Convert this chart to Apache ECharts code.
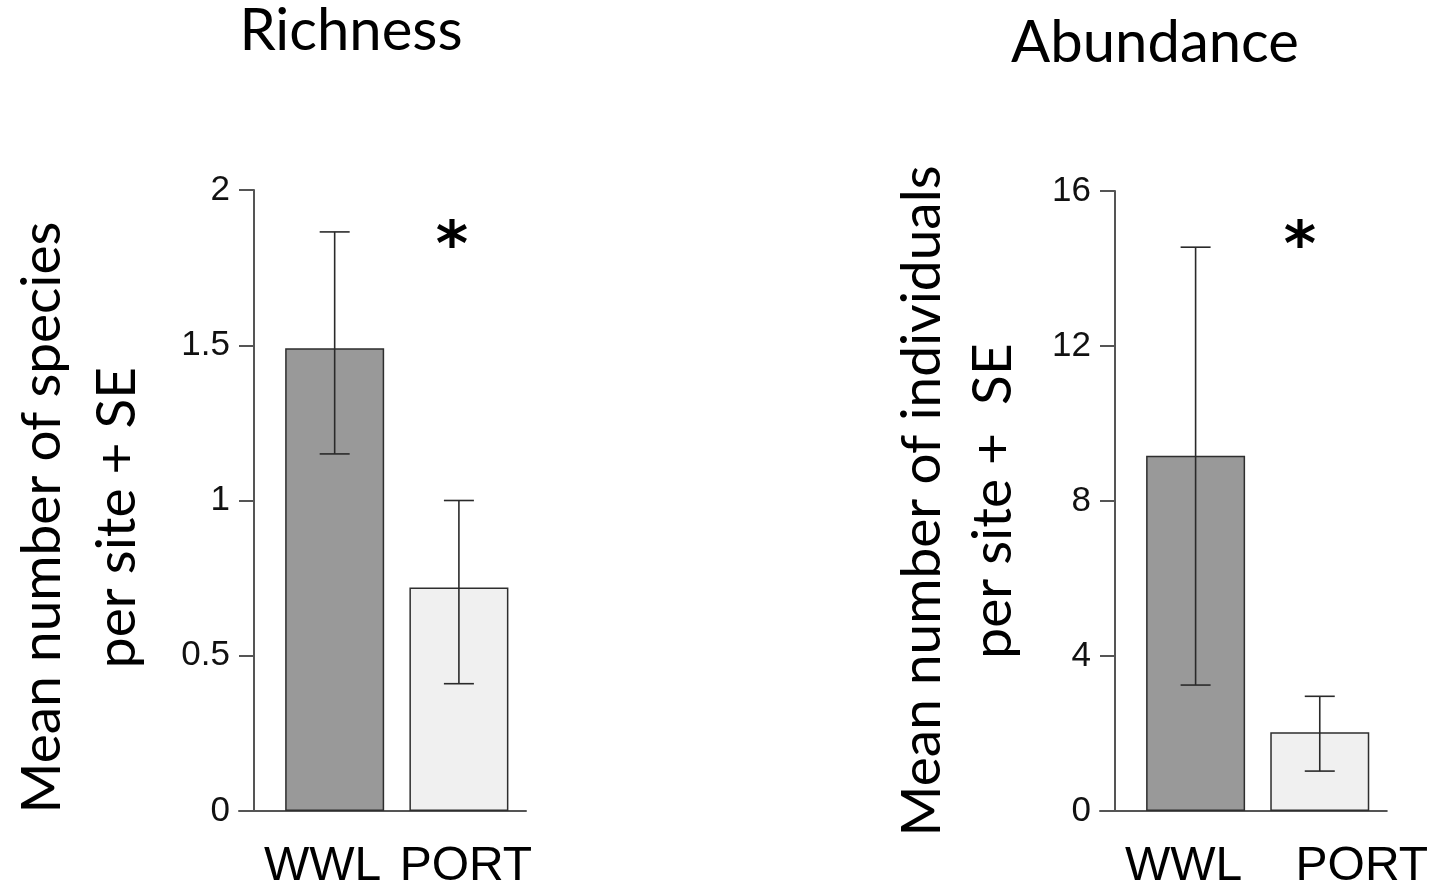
<!DOCTYPE html>
<html><head><meta charset="utf-8">
<script src="https://cdn.jsdelivr.net/npm/echarts@6/dist/echarts.min.js"></script>
<style>html,body{margin:0;padding:0;background:#fff}#c{width:1431px;height:891px}</style>
</head><body><div id="c"></div>
<script>
// ---- data ----
const categories = ['WWL', 'PORT'];
const richnessMean = [1.49, 0.72];
const richnessLow = [1.15, 0.41];
const richnessHigh = [1.865, 1.0];
const abundanceMean = [9.17, 2.03];
const abundanceLow = [3.25, 1.03];
const abundanceHigh = [14.55, 2.96];
const richnessTicks = [0, 0.5, 1, 1.5, 2];
const abundanceTicks = [0, 4, 8, 12, 16];
const titles = ['Richness', 'Abundance'];
const yNames = ['Mean number of species\nper site + SE', 'Mean number of individuals\nper site +  SE'];
const signif = ['*', '*'];

// ---- styles ----
const fills = ['#999999', '#f0f0f0'];
const axisColor = '#555555';
const tickFont = 'Liberation Sans, Arial, sans-serif';
const nameFont = 'Lato, "Open Sans", sans-serif';

const chart = echarts.init(document.getElementById('c'), null, {renderer: 'canvas'});

const panels = [
  {mean: richnessMean, low: richnessLow, high: richnessHigh, ticks: richnessTicks,
   grid: {left: 239, top: 190, width: 287, height: 622}, labelShift: [-12, 7],
   namePad: [0, 34, 0, 0], nameSize: 55, nameLH: 75, nameGap: 99},
  {mean: abundanceMean, low: abundanceLow, high: abundanceHigh, ticks: abundanceTicks,
   grid: {left: 1100, top: 191, width: 287, height: 621}, labelShift: [-12, 42],
   namePad: [0, 0, 0, 0], nameSize: 55, nameLH: 71, nameGap: 86}
];

function richFor(shift) {
  const r = {};
  shift.forEach((s, k) => {
    r['l' + k] = {fontSize: 48, fontFamily: tickFont, color: '#000',
      padding: s < 0 ? [0, -2 * s, 0, 0] : [0, 0, 0, 2 * s]};
  });
  return r;
}

const grids = [], xAxes = [], yAxes = [], series = [];
panels.forEach((p, i) => {
  grids.push(p.grid);
  xAxes.push({
    gridIndex: i, type: 'value', min: 0.23, max: 2.54,
    splitLine: {show: false}, axisTick: {show: false},
    axisLine: {show: true, onZero: false, lineStyle: {color: axisColor, width: 2}},
    axisLabel: {
      customValues: categories.map((c, k) => k + 1),
      formatter: v => { const k = Math.round(v) - 1; return '{l' + k + '|' + categories[k] + '}'; },
      margin: 32, rich: richFor(p.labelShift)
    }
  });
  const t = p.ticks;
  yAxes.push({
    gridIndex: i, type: 'value', min: t[0], max: t[t.length - 1], interval: t[1] - t[0],
    offset: -15,
    splitLine: {show: false},
    axisLine: {show: true, onZero: false, lineStyle: {color: axisColor, width: 2}},
    axisTick: {show: true, length: 15, lineStyle: {color: axisColor, width: 2}},
    axisLabel: {margin: 24, fontSize: 35, fontFamily: tickFont, color: '#111'},
    name: yNames[i], nameLocation: 'middle', nameRotate: 90, nameGap: p.nameGap,
    nameTextStyle: {fontFamily: nameFont, fontSize: p.nameSize, lineHeight: p.nameLH, color: '#000', padding: p.namePad}
  });
  series.push({
    type: 'bar', xAxisIndex: i, yAxisIndex: i, barWidth: 99, z: 2,
    data: categories.map((c, k) => ({
      value: [k + 1, p.mean[k]],
      itemStyle: {color: fills[k], borderColor: '#2e2e2e', borderWidth: 1.5}
    }))
  });
  series.push({
    type: 'custom', xAxisIndex: i, yAxisIndex: i, z: 5,
    encode: {x: 0, y: [1, 2]},
    data: categories.map((c, k) => [k + 1, p.low[k], p.high[k]]),
    renderItem: (params, api) => {
      const x = api.value(0);
      const a = api.coord([x, api.value(1)]);
      const b = api.coord([x, api.value(2)]);
      const w = 15;
      const st = {stroke: '#2a2a2a', lineWidth: 1.6};
      return {type: 'group', children: [
        {type: 'line', shape: {x1: a[0], y1: a[1], x2: b[0], y2: b[1]}, style: st},
        {type: 'line', shape: {x1: a[0] - w, y1: a[1], x2: a[0] + w, y2: a[1]}, style: st},
        {type: 'line', shape: {x1: b[0] - w, y1: b[1], x2: b[0] + w, y2: b[1]}, style: st}
      ]};
    }
  });
});

chart.setOption({
  backgroundColor: '#fff',
  animation: false,
  title: [
    {text: titles[0], left: 346, top: -3, textAlign: 'center', textStyle: {fontFamily: nameFont, fontSize: 58, fontWeight: 'normal', color: '#000'}},
    {text: titles[1], left: 1150, top: 9, textAlign: 'center', textStyle: {fontFamily: nameFont, fontSize: 58, fontWeight: 'normal', color: '#000'}},
    {text: signif[0], left: 447, top: 213, textAlign: 'center', textStyle: {fontFamily: 'DejaVu Sans', fontSize: 62, fontWeight: 'bold', color: '#000'}},
    {text: signif[1], left: 1295, top: 213, textAlign: 'center', textStyle: {fontFamily: 'DejaVu Sans', fontSize: 62, fontWeight: 'bold', color: '#000'}}
  ],
  grid: grids, xAxis: xAxes, yAxis: yAxes, series: series
});
</script></body></html>
